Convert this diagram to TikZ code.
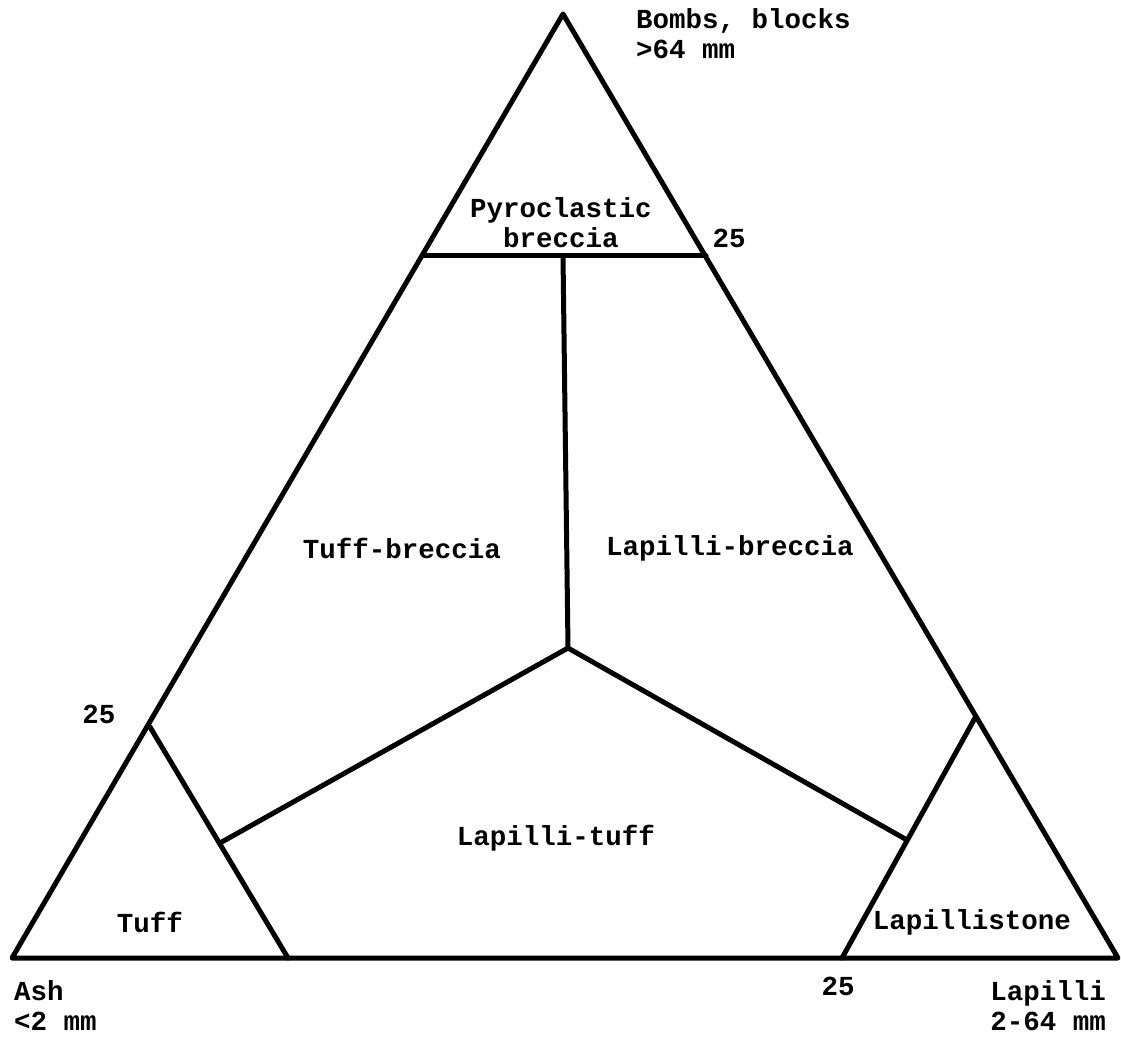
\documentclass[tikz,border=0pt]{standalone}
\usepackage{fontspec}
\setmonofont{Liberation Mono}
\begin{document}
\begin{tikzpicture}[x=1pt,y=-1pt,
  edge/.style={line width=5pt,line join=round,line cap=round},
  lbl/.style={font=\ttfamily\bfseries\fontsize{27.5}{30}\selectfont,inner sep=0pt}]
\useasboundingbox[fill=white] (0,0) rectangle (1121,1040);
% corners and junctions
\coordinate (A) at (563,14);
\coordinate (BL) at (12,958);
\coordinate (BR) at (1118,958);
\coordinate (HL) at (424,256);
\coordinate (HR) at (706,256);
\coordinate (HM) at (563,256);
\coordinate (C) at (568,648);
\coordinate (JL) at (220,843);
\coordinate (JR) at (907,840);
\coordinate (TL) at (150,727);
\coordinate (TB) at (288,958);
\coordinate (RT) at (975,718);
\coordinate (RB) at (842,958);
% outer triangle
\draw[edge] (A) -- (BR) -- (BL) -- cycle;
% inner boundaries
\draw[edge] (HL) -- (HR);
\draw[edge] (HM) -- (C);
\draw[edge] (JL) -- (C) -- (JR);
\draw[edge] (TL) -- (TB);
\draw[edge] (RT) -- (RB);
% labels
\node[lbl,anchor=west,align=left] (bombs) at (636,34) {Bombs, blocks\\>64 mm};
\node[lbl,align=center] (pyro) at (561,223) {Pyroclastic\\breccia};
\node[lbl] (n25a) at (729,238) {25};
\node[lbl] (tb) at (402,548) {Tuff-breccia};
\node[lbl] (lb) at (730,548) {Lapilli-breccia};
\node[lbl] (n25b) at (99,714) {25};
\node[lbl] (lt) at (556,838) {Lapilli-tuff};
\node[lbl] (tuff) at (150,922) {Tuff};
\node[lbl] (ls) at (972,922) {Lapillistone};
\node[lbl,anchor=west,align=left] (ash) at (14,1006) {Ash\\<2 mm};
\node[lbl] (n25c) at (838,986) {25};
\node[lbl,anchor=east,align=right] (lap) at (1106,1006) {Lapilli\\2-64 mm};
\end{tikzpicture}
\end{document}
